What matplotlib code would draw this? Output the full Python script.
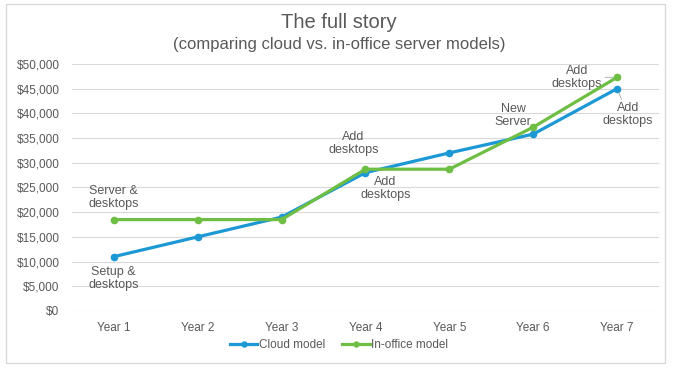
import matplotlib.pyplot as plt
import matplotlib.patches as mpatches
from matplotlib.ticker import FuncFormatter

plt.rcParams['font.family'] = ['Liberation Sans', 'DejaVu Sans']

years = ["Year 1", "Year 2", "Year 3", "Year 4", "Year 5", "Year 6", "Year 7"]
cloud = [11000, 15000, 19000, 28000, 32000, 35800, 45000]
in_office = [18500, 18500, 18500, 28700, 28700, 37200, 47300]

# (series, index, text, offset in px: dx, dy)
notes = [
    ("office", 0, "Server &\ndesktops", (0, 22)),
    ("cloud", 0, "Setup &\ndesktops", (0, -22)),
    ("office", 3, "Add\ndesktops", (-12, 26)),
    ("cloud", 3, "Add\ndesktops", (20, -16)),
    ("office", 5, "New\nServer", (-20, 12)),
]

blue = "#1C98D5"
green = "#6EBE44"
grey = "#595959"

fig = plt.figure(figsize=(6.78, 3.75), dpi=100)
ax = fig.add_axes([0.106, 0.1707, 0.866, 0.6587])

x = list(range(len(years)))
ax.plot(x, cloud, color=blue, lw=2.3, marker="o", ms=4.5, label="Cloud model", zorder=3)
ax.plot(x, in_office, color=green, lw=2.3, marker="o", ms=4.5, label="In-office model", zorder=4)

ax.set_xlim(-0.5, len(years) - 0.5)
ax.set_ylim(0, 50000)
ax.set_yticks(range(0, 50001, 5000))
ax.yaxis.set_major_formatter(FuncFormatter(lambda v, p: f"${v:,.0f}"))
ax.set_xticks(x)
ax.set_xticklabels(years)
ax.grid(axis="y", color="#D9D9D9", lw=0.8)
ax.set_axisbelow(True)
for s in ax.spines.values():
    s.set_visible(False)
ax.tick_params(length=0, colors=grey, labelsize=8.5, pad=8)
ax.tick_params(axis="y", pad=9)

px = 0.72
for series, i, txt, (dx, dy) in notes:
    yv = cloud[i] if series == "cloud" else in_office[i]
    ax.annotate(txt, (i, yv), xytext=(dx * px, dy * px), textcoords="offset points",
                ha="center", va="center", fontsize=9, color=grey, linespacing=1.15)

# leader-line labels at Year 7
ax.annotate("Add\ndesktops", (6, in_office[6]), xytext=(-40 * px, 0 * px),
            textcoords="offset points", ha="center", va="center", fontsize=9,
            color=grey, linespacing=1.15,
            arrowprops=dict(arrowstyle="-", color="#A6A6A6", lw=0.6, shrinkA=14, shrinkB=3))
ax.annotate("Add\ndesktops", (6, cloud[6]), xytext=(11 * px, -26 * px),
            textcoords="offset points", ha="center", va="center", fontsize=9,
            color=grey, linespacing=1.15,
            arrowprops=dict(arrowstyle="-", color="#A6A6A6", lw=0.6, shrinkA=10, shrinkB=3))

fig.text(0.5, 1 - 22 / 375, "The full story", ha="center", va="center", fontsize=14.5, color=grey)
fig.text(0.5, 1 - 45 / 375, "(comparing cloud vs. in-office server models)", ha="center",
         va="center", fontsize=12, color=grey)

ax.legend(loc="center", bbox_to_anchor=(0.5, (375 - 345) / 375), bbox_transform=fig.transFigure,
          ncol=2, frameon=False, fontsize=8.5, labelcolor=grey, handlelength=2.3,
          handletextpad=0.1, columnspacing=1.5, markerscale=0.8)

fig.patches.append(mpatches.Rectangle((6 / 678, 1 - 363 / 375), 659 / 678, 359 / 375,
                                      transform=fig.transFigure, fill=False,
                                      edgecolor="#D9D9D9", lw=1))

fig.savefig("out.png", dpi=100)
